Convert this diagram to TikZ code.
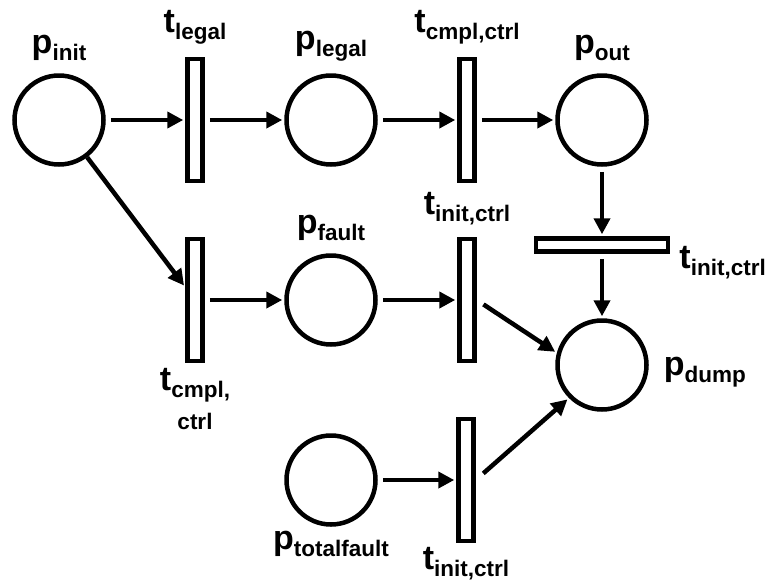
\documentclass[tikz,border=0pt]{standalone}
\usepackage{fontspec}
\setmainfont{Liberation Sans}
\usetikzlibrary{positioning,arrows.meta}

\tikzset{
  place/.style={circle,draw,line width=4.5pt,minimum size=89pt,inner sep=0pt},
  trans/.style={rectangle,draw,line width=4.5pt,minimum width=15pt,minimum height=122pt,inner sep=0pt},
  htrans/.style={rectangle,draw,line width=4.5pt,minimum width=132pt,minimum height=13pt,inner sep=0pt},
  lbl/.style={font=\fontsize{34}{38}\selectfont\bfseries,inner sep=1pt},
  arc/.style={line width=4.5pt,-{Triangle[length=16pt,width=16pt]},shorten <=5pt,shorten >=2pt}
}
\newcommand{\sublbl}[2]{#1\raisebox{-7pt}{\fontsize{22.5}{22.5}\selectfont #2}}

\begin{document}
\begin{tikzpicture}[node distance=180pt and 136pt,on grid,every label/.style=lbl,label distance=11pt]
        \useasboundingbox (0,0) rectangle (778pt,-584pt);
        \node[place,label=above:{\sublbl{p}{init}}] (pinit) at (59pt,-120pt) {};
        \node[trans,label=above:{\sublbl{t}{legal}}] (tlegal) [right = of pinit] {};
        \node[place,label=above:{\sublbl{p}{legal}}] (plegal) [right = of tlegal] {};
        \node[trans,label=above:{\sublbl{t}{cmpl,ctrl}}] (tcc) [right = of plegal] {};
        \node[place,label=above:{\sublbl{p}{out}}] (pout) [right = 135pt of tcc] {};
        \node[htrans,label={[anchor=north west,label distance=8pt]east:{\sublbl{t}{init,ctrl}}}] (tic2) [below = 125pt of pout] {};
        \node[place,label={[label distance=14pt,yshift=-7pt]right:{\sublbl{p}{dump}}}] (pdump) [below = 120pt of tic2] {};
        \node[trans,label={[align=center,label distance=4pt]below:{\sublbl{t}{cmpl,}\\[1pt]{\fontsize{22.5}{22.5}\selectfont ctrl}}}] (tcmpl) [below = of tlegal] {};
        \node[place,label=above:{\sublbl{p}{fault}}] (pfault) [right = of tcmpl] {};
        \node[trans,label=above:{\sublbl{t}{init,ctrl}}] (tic1) [right = of pfault] {};
        \node[place,label={[label distance=3pt]below:{\sublbl{p}{totalfault}}}] (ptotal) [below = of pfault] {};
        \node[trans,label={[label distance=3pt]below:{\sublbl{t}{init,ctrl}}}] (tic3) [right = 135pt of ptotal] {};
        \path[arc]
        (pinit) edge (tlegal)
        (pinit) edge [shorten <=0pt] (tcmpl)
        (tlegal) edge (plegal)
        (plegal) edge (tcc)
        (tcc) edge (pout)
        (tcmpl) edge (pfault)
        (pfault) edge (tic1)
        (ptotal) edge (tic3)
        (pout) edge (tic2)
        (tic2) edge (pdump)
        (tic1.east) edge [shorten <=8pt] (pdump.165)
        (tic3.east) edge [shorten <=10pt] (pdump.225)
        ;
\end{tikzpicture}
\end{document}
